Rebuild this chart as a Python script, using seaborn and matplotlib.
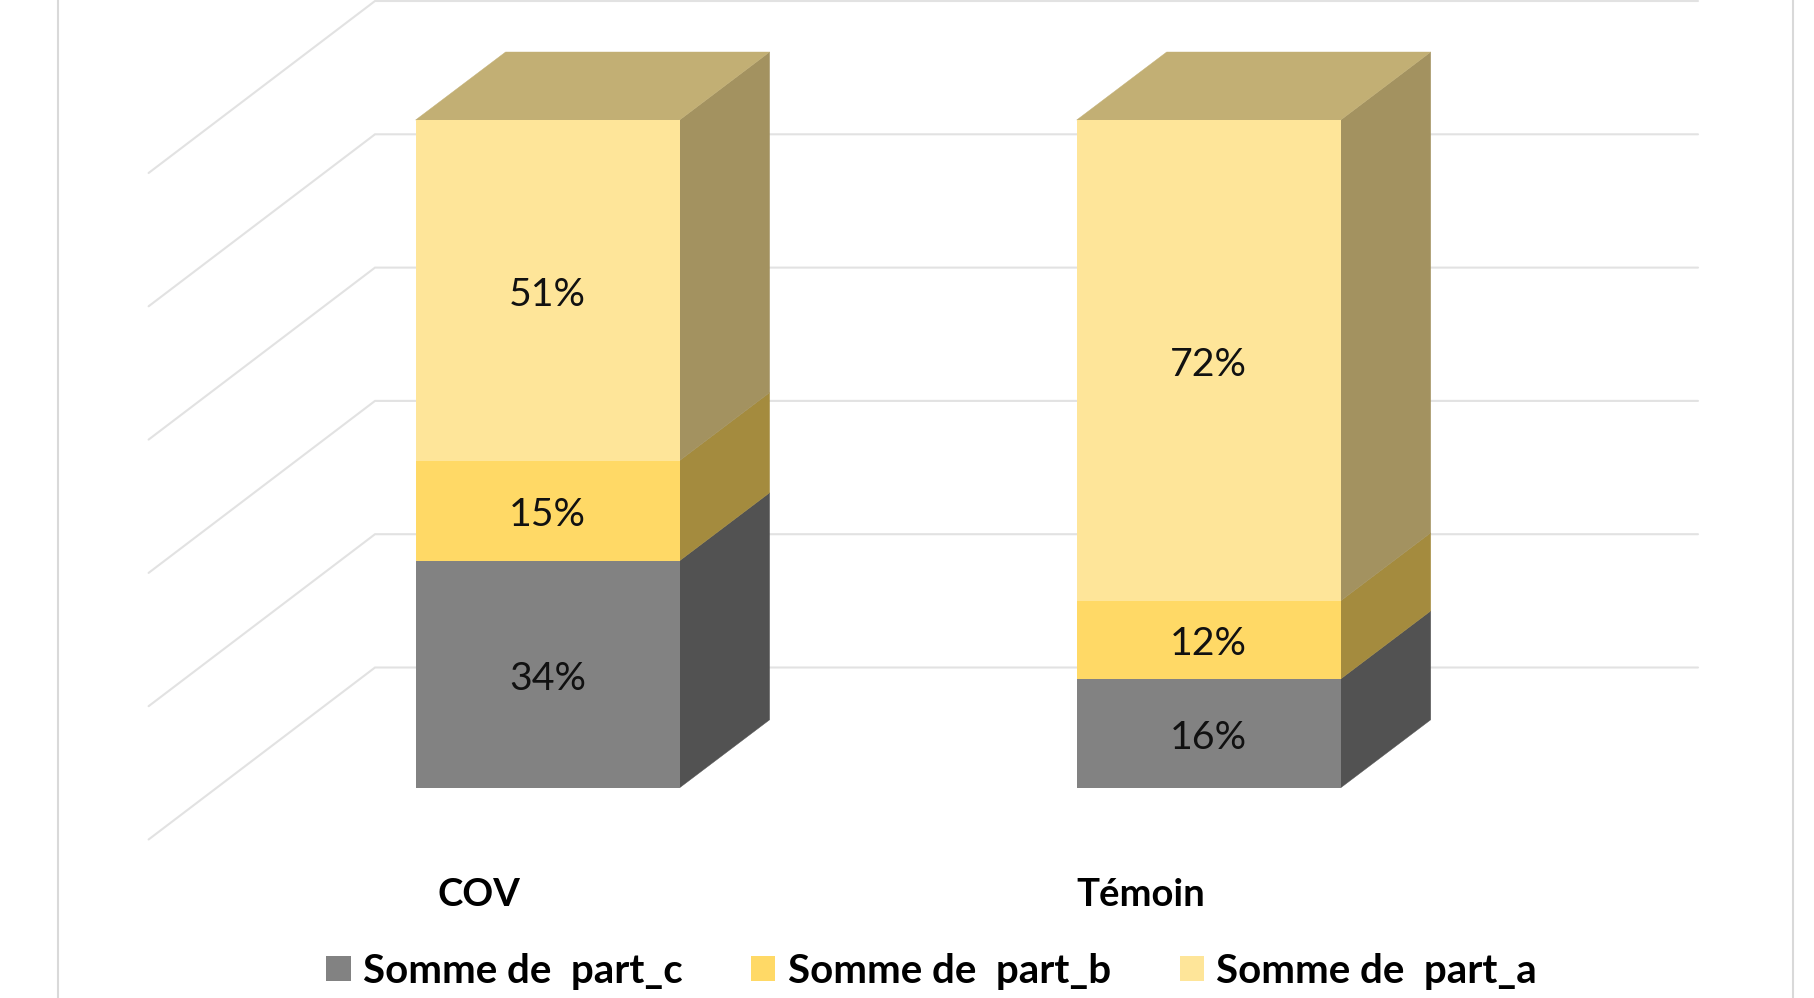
import numpy as np
import matplotlib
matplotlib.use("Agg")
import matplotlib.pyplot as plt
from matplotlib.lines import Line2D
from matplotlib.patches import Polygon, Patch
import seaborn as sns

groups = ["COV", "Témoin"]
part_c = [34, 16.3]
part_b = [15, 11.7]
part_a = [51, 72]
series_names = ["Somme de  part_c", "Somme de  part_b", "Somme de  part_a"]
grid_values = [0, 20, 40, 60, 80, 100]

W, H = 1815, 998
sns.set_theme(style="white")
plt.rcParams["font.family"] = ["Lato", "DejaVu Sans"]

front_colors = ["#828282", "#FFD966", "#FEE599"]
side_colors = ["#525252", "#A48B3E", "#A39260"]
top_color = "#C2AF74"
grid_color = "#E2E2E2"
frame_color = "#D9D9D9"

# pixel geometry of the chart
Y0, Y100 = 787.8, 120.0
X0, X1 = 547.6, 1208.7
unit_y = (Y0 - Y100) / 100.0
unit_x = X1 - X0
BOTTOM_PX = 872
to_x = lambda px: (px - X0) / unit_x
to_y = lambda py: (Y0 - py) / unit_y
bar_w = 264.0 / unit_x
dx, dy = 90.0 / unit_x, 68.0 / unit_y

fig = plt.figure(figsize=(W / 100, H / 100), dpi=100, facecolor="white")
ax = fig.add_axes([0, (H - BOTTOM_PX) / H, 1, BOTTOM_PX / H])
ax.set_facecolor("none")

# stacked bars through seaborn
stack = [part_c, part_b, part_a]
bottoms = np.zeros(len(groups))
segments = []
for name, vals, col in zip(series_names, stack, front_colors):
    sns.barplot(x=groups, y=vals, bottom=bottoms, color=col, saturation=1,
                width=bar_w, linewidth=0, ax=ax, zorder=3, errorbar=None)
    segments.append((bottoms.copy(), np.array(vals, dtype=float)))
    bottoms = bottoms + np.array(vals, dtype=float)

for cont, vals in zip(ax.containers, stack):
    anns = ax.bar_label(cont, labels=[f"{round(v)}%" for v in vals], label_type="center",
                        fontsize=28.3, color="#111111", zorder=6)
    for ann in anns:
        ann.xyann = (0, -3.2)

# depth faces of the bars
for (bot, val), side in zip(segments, side_colors):
    for i in range(len(groups)):
        xr = i + bar_w / 2
        ax.add_patch(Polygon([(xr, bot[i]), (xr + dx, bot[i] + dy),
                              (xr + dx, bot[i] + val[i] + dy), (xr, bot[i] + val[i])],
                             closed=True, facecolor=side, edgecolor=side, lw=0.3, zorder=2.5))
for i in range(len(groups)):
    xl, xr = i - bar_w / 2, i + bar_w / 2
    ax.add_patch(Polygon([(xl, 100), (xr, 100), (xr + dx, 100 + dy), (xl + dx, 100 + dy)],
                         closed=True, facecolor=top_color, edgecolor=top_color, lw=0.3, zorder=2.5))

# back wall and floor gridlines
bx, fx, rx = to_x(375), to_x(148.6), to_x(1698)
back_off = to_y(667.5)
front_off = to_y(839.5)
grid_step = (to_y(1.0) - to_y(667.5)) / 100.0
for v in grid_values:
    ax.plot([fx, bx, rx], [v * grid_step + front_off, v * grid_step + back_off, v * grid_step + back_off],
            color=grid_color, lw=1.5, zorder=1, clip_on=False, solid_joinstyle="miter")

ax.set_xlim(to_x(0), to_x(W))
ax.set_ylim(to_y(BOTTOM_PX), to_y(0))
ax.set_xticks([to_x(479), to_x(1141)])
ax.set_xticklabels(groups, fontsize=27.5, fontweight="bold", color="black")
ax.set_yticks([])
ax.set_xlabel("")
ax.set_ylabel("")
ax.tick_params(axis="x", length=0, pad=4.5)
for s in ax.spines.values():
    s.set_visible(False)

# chart frame at left and right
for px in (58.4, 1792.6):
    fig.add_artist(Line2D([px / W, px / W], [0, 1], color=frame_color, lw=1.5))

handles = [Patch(facecolor=c, edgecolor="none") for c in front_colors]
fig.legend(handles, series_names, loc="center", bbox_to_anchor=(931.5 / W, 1 - 971 / H),
           ncol=3, frameon=False, prop={"size": 29, "weight": "bold"},
           handlelength=0.6, handleheight=0.6, handletextpad=0.3,
           columnspacing=1.71, borderpad=0, borderaxespad=0, labelcolor="black")

fig.savefig("out.png", dpi=100, facecolor="white")
